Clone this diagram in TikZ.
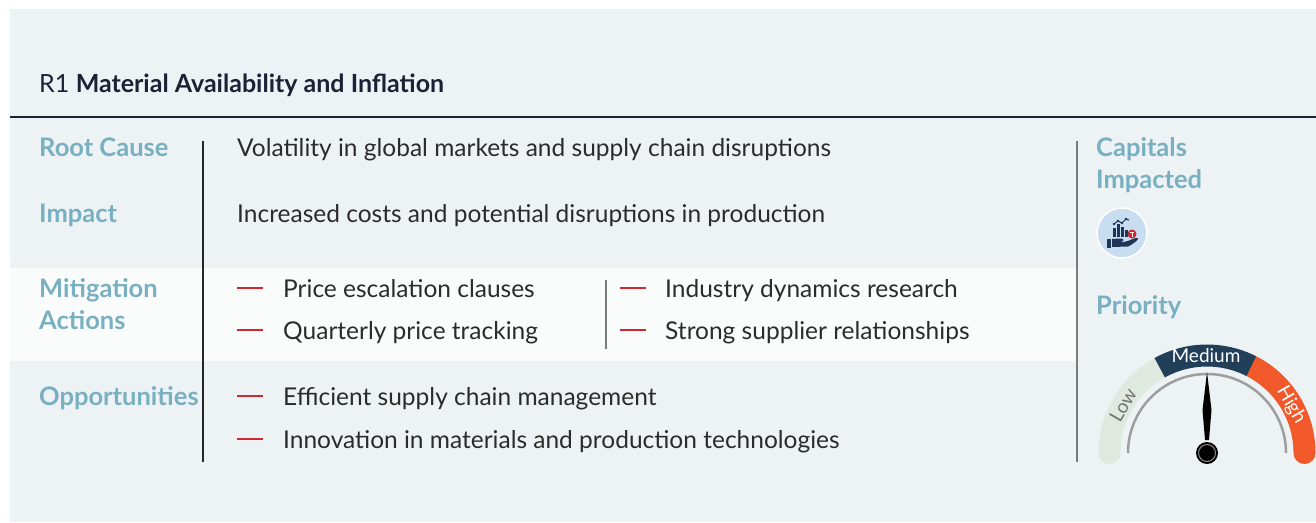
\documentclass[tikz,border=0pt]{standalone}
\usepackage{fontspec}
\setmainfont{Lato}
\definecolor{panelc}{HTML}{EDF2F5}
\definecolor{bandc}{HTML}{FAFCFC}
\definecolor{lab}{HTML}{79B0C1}
\definecolor{txt}{HTML}{2B2B2B}
\definecolor{hdr}{HTML}{1B2236}
\definecolor{dashc}{HTML}{D22630}
\definecolor{lowc}{HTML}{E0E9DF}
\definecolor{medc}{HTML}{223F5A}
\definecolor{highc}{HTML}{F1592A}
\definecolor{iconbg}{HTML}{C9DDF1}
\definecolor{navy}{HTML}{1E3558}
\definecolor{rulec}{HTML}{7A7A7A}
\begin{document}
\begin{tikzpicture}[x=1pt,y=-1pt,
  lbl/.style={anchor=base west, inner sep=0pt, font=\fontsize{25.5}{30}\selectfont\bfseries, text=lab},
  body/.style={anchor=base west, inner sep=0pt, font=\fontsize{24.5}{29}\selectfont, text=txt},
  dashline/.style={draw=dashc, line width=2.8pt},
  gaugelbl/.style={inner sep=0pt, font=\fontsize{19}{22}\selectfont},
  gband/.style={line width=22pt}]
\useasboundingbox (0,0) rectangle (1316,522);
% panel and band
\fill[panelc] (10,9) rectangle (1316,522);
\fill[bandc] (10,268) rectangle (1077,361);
% rules
\draw[hdr, line width=1.5pt] (10,117) -- (1316,117);
\draw[black!85, line width=1.2pt] (203,141) -- (203,462);
\draw[rulec, line width=1.3pt] (606,280) -- (606,349);
\draw[rulec, line width=2pt] (1077,141) -- (1077,462);
% header
\node[anchor=base west, inner sep=0pt, font=\fontsize{25}{30}\selectfont, text=hdr] (title) at (39,92) {R1 \textbf{Material Availability and Inflation}};
% labels
\node[lbl] (rc) at (39,156) {Root Cause};
\node[lbl] (im) at (39,222) {Impact};
\node[lbl] (mi1) at (39,297) {Mitigation};
\node[lbl] (mi2) at (39,329) {Actions};
\node[lbl] (op) at (39,405) {Opportunities};
% body
\node[body] (rct) at (237,156) {Volatility in global markets and supply chain disruptions};
\node[body] (imt) at (237,222) {Increased costs and potential disruptions in production};
% bullets
\foreach \y in {288,330,396,439} \draw[dashline] (237,\y) -- (263,\y);
\foreach \y in {288,330} \draw[dashline] (620,\y) -- (646,\y);
\node[body] (m1) at (283,297) {Price escalation clauses};
\node[body] (m2) at (283,339) {Quarterly price tracking};
\node[body] (m3) at (665,297) {Industry dynamics research};
\node[body] (m4) at (665,339) {Strong supplier relationships};
\node[body] (o1) at (283,405) {Efficient supply chain management};
\node[body] (o2) at (283,448) {Innovation in materials and production technologies};
% right column
\node[lbl] (cap1) at (1096,156) {Capitals};
\node[lbl] (cap2) at (1096,188) {Impacted};
\node[lbl] (pri) at (1096,314) {Priority};
% icon
\draw[white, line width=1.5pt, fill=iconbg] (1122,233) circle[radius=25];
\fill[navy] (1113,228) rectangle (1115.8,237);
\fill[navy] (1117,224) rectangle (1119.8,237);
\fill[navy] (1121,227) rectangle (1123.8,237);
\fill[navy] (1125,230) rectangle (1127.8,237);
\draw[navy, line width=1pt] (1114,224) -- (1118,221) -- (1122,223) -- (1126,219) -- (1129,220);
\foreach \p in {(1114,224),(1118,221),(1122,223),(1126,219)} \fill[navy] \p circle[radius=1.3];
\fill[navy] (1107,238.5) rectangle (1111,247.5);
\fill[navy] (1112,239) -- (1120,238.5) .. controls (1124,238.5) and (1125,241) .. (1121,241.5) -- (1117,241.8) -- (1124,242) .. controls (1130,241) and (1135,237) .. (1138,238) .. controls (1139,239) and (1135,243) .. (1128,246.5) -- (1112,247) -- cycle;
\fill[dashc] (1132,234) circle[radius=4.5];
\fill[white] (1130.3,232) rectangle (1133.7,233);
\fill[white] (1131.5,233) rectangle (1132.5,236.5);
% gauge
\coordinate (gc) at (1207,453);
\draw[lowc, gband, line cap=round] (gc) ++(180:97.5) arc[start angle=180, end angle=241, radius=97.5];
\draw[highc, gband, line cap=round] (gc) ++(297:97.5) arc[start angle=297, end angle=360, radius=97.5];
\draw[medc, gband] (gc) ++(241:97.5) arc[start angle=241, end angle=297, radius=97.5];
\draw[black!38, line width=2.5pt] (gc) ++(180:79) arc[start angle=180, end angle=360, radius=79];
\node[gaugelbl, text=black!55, rotate=60] (glow) at (1123,405) {Low};
\node[gaugelbl, text=white] (gmed) at (1206,356) {Medium};
\node[gaugelbl, text=white, rotate=-60] (ghigh) at (1291,405) {High};
\fill[black] (1207,372) -- (1211.5,410) -- (1209,440) -- (1205,440) -- (1202.5,410) -- cycle;
\fill[black] (gc) circle[radius=11];
\draw[black!45, line width=1pt, fill=black] (gc) circle[radius=8.5];
\end{tikzpicture}
\end{document}
